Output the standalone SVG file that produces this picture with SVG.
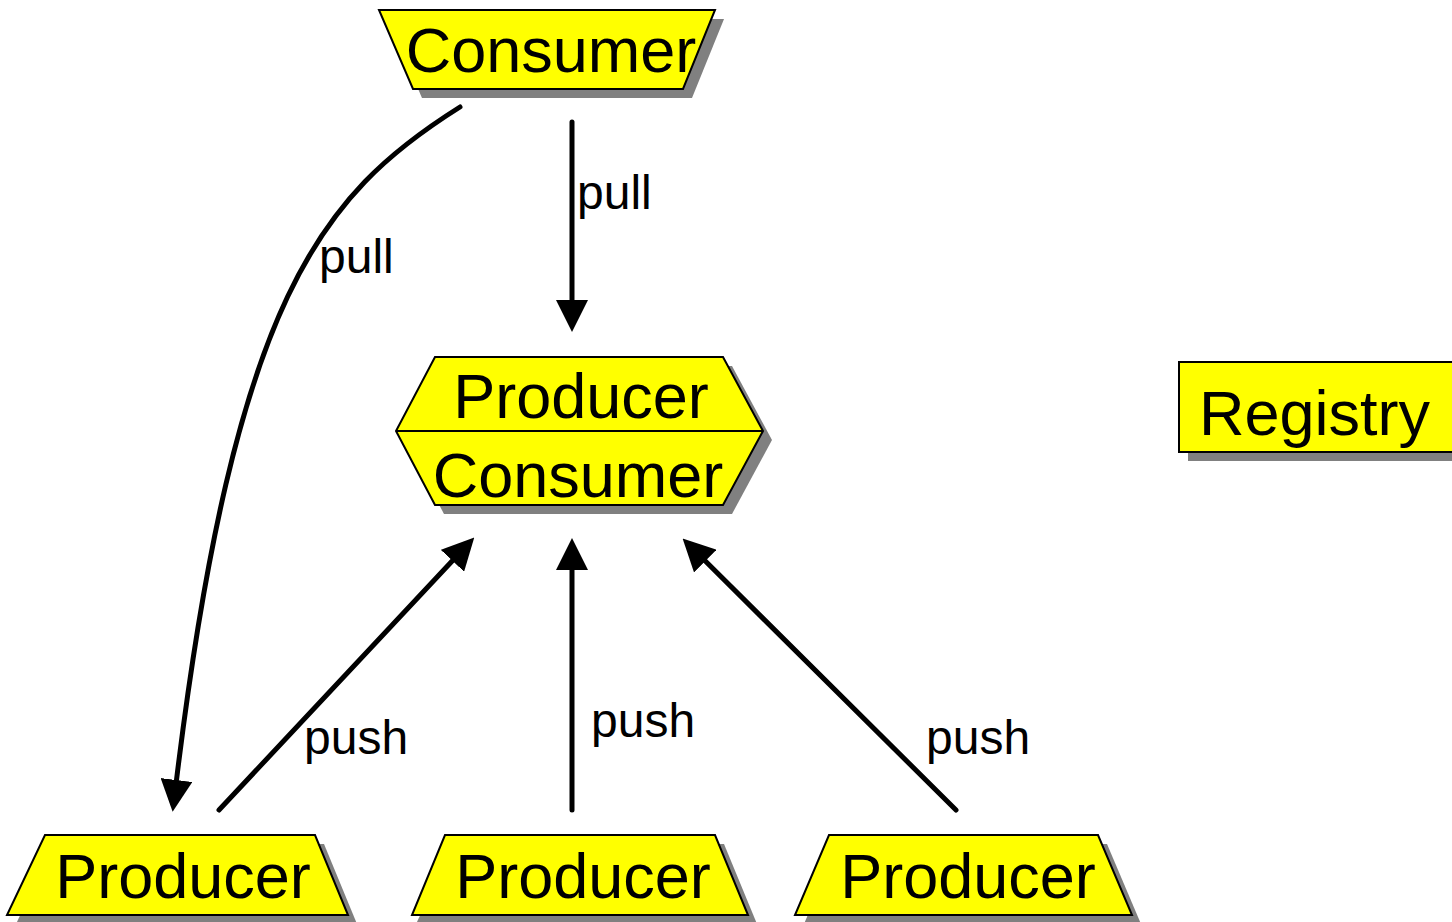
<svg xmlns="http://www.w3.org/2000/svg" width="1452" height="922" viewBox="0 0 1452 922">
<style>
.shape{fill:#ffff00;stroke:#000;stroke-width:2;stroke-linejoin:miter}
.shadow{fill:#808080}
.nt{font-family:"Liberation Sans",Arial,sans-serif;font-size:63px;fill:#000}
.lt{font-family:"Liberation Sans",Arial,sans-serif;font-size:48px;fill:#000}
.edge{fill:none;stroke:#000;stroke-width:5;stroke-linecap:round}
</style>
<defs>
<marker id="arr" markerUnits="userSpaceOnUse" markerWidth="32" markerHeight="32" refX="0" refY="15" orient="auto" viewBox="0 0 30 30">
<path d="M0,0 L30,15 L0,30 Z" fill="#000"/>
</marker>
</defs>
<rect width="1452" height="922" fill="#fff"/>
<g id="connectors">
<path class="edge" d="M460,107 C320,195 235,300 176.5,780" marker-end="url(#arr)"/>
<line class="edge" x1="572" y1="122" x2="572" y2="300" marker-end="url(#arr)"/>
<line class="edge" x1="219" y1="810" x2="452.4" y2="560.8" marker-end="url(#arr)"/>
<line class="edge" x1="572" y1="810" x2="572" y2="570" marker-end="url(#arr)"/>
<line class="edge" x1="956" y1="810" x2="705.3" y2="561.1" marker-end="url(#arr)"/>
<text class="lt" x="577" y="209">pull</text>
<text class="lt" x="319" y="273">pull</text>
<text class="lt" x="304" y="754">push</text>
<text class="lt" x="591" y="737">push</text>
<text class="lt" x="926" y="754">push</text>
</g>
<g id="consumer">
<polygon class="shadow" points="388,19 724,19 692,98 422,98"/>
<polygon class="shape" points="379,10 715,10 683,89 413,89"/>
<text class="nt" x="551" y="72" text-anchor="middle">Consumer</text>
</g>
<g id="producer-consumer">
<polygon class="shadow" points="444,366 732,366 772,440 732,514 444,514 405,440"/>
<polygon class="shape" points="435,357 723,357 763,431 723,505 435,505 396,431"/>
<line x1="396" y1="431" x2="763" y2="431" stroke="#000" stroke-width="2"/>
<text class="nt" x="581" y="418" text-anchor="middle">Producer</text>
<text class="nt" x="578" y="497" text-anchor="middle">Consumer</text>
</g>
<g id="registry">
<rect class="shadow" x="1188" y="371" width="300" height="90"/>
<rect class="shape" x="1179" y="362" width="300" height="90"/>
<text class="nt" x="1199" y="435">Registry</text>
</g>
<g id="producer1">
<polygon class="shadow" points="54,844 324,844 357,924 16,924"/>
<polygon class="shape" points="45,835 315,835 348,915 7,915"/>
<text class="nt" x="183" y="898" text-anchor="middle">Producer</text>
</g>
<g id="producer2">
<polygon class="shadow" points="454,844 724,844 757,924 416,924"/>
<polygon class="shape" points="445,835 715,835 748,915 412,915"/>
<text class="nt" x="583" y="898" text-anchor="middle">Producer</text>
</g>
<g id="producer3">
<polygon class="shadow" points="838,844 1107,844 1141,924 804,924"/>
<polygon class="shape" points="829,835 1098,835 1132,915 795,915"/>
<text class="nt" x="968" y="898" text-anchor="middle">Producer</text>
</g>
</svg>
